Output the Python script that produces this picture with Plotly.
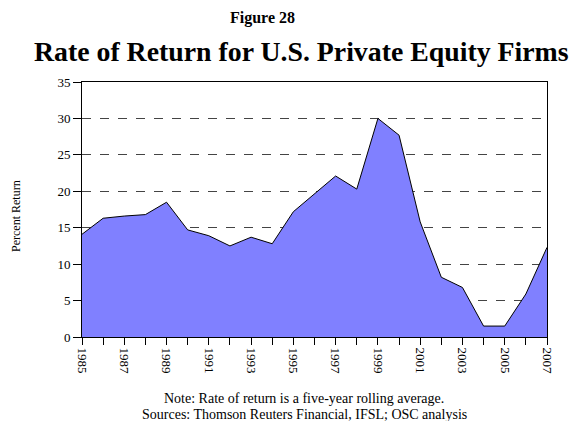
import plotly.graph_objects as go

years = list(range(1985, 2008))
returns = [14.1, 16.3, 16.6, 16.8, 18.5, 14.7, 13.9, 12.5, 13.7, 12.8, 17.2,
           19.6, 22.1, 20.3, 30.0, 27.7, 15.8, 8.2, 6.8, 1.5, 1.5, 5.9, 12.3]
y_ticks = [0, 5, 10, 15, 20, 25, 30, 35]
x_labels = [str(y) if (y - 1985) % 2 == 0 else "" for y in years]

font_family = "Liberation Serif, Times New Roman, serif"

L, R, T, B = 82, 34, 82, 84
W, H = 581, 421
pw = W - L - R
ph = H - T - B


def px(xp):
    return (xp - L) / pw


def py(yp):
    return (H - B - yp) / ph


fig = go.Figure()
fig.add_trace(go.Scatter(
    x=years, y=returns, mode="lines", fill="tozeroy",
    fillcolor="#8080FF", line=dict(color="black", width=1),
    hoverinfo="x+y", showlegend=False,
))


def ann(text, x, y, size, angle=0):
    return dict(text=text, x=px(x), y=py(y), xref="paper", yref="paper",
                xanchor="center", yanchor="middle", showarrow=False,
                textangle=angle, font=dict(size=size))


fig.update_layout(
    width=W, height=H,
    margin=dict(l=L, r=R, t=T, b=B, autoexpand=False),
    paper_bgcolor="white", plot_bgcolor="white",
    font=dict(family=font_family, color="black", size=13),
    annotations=[
        ann("<b>Figure 28</b>", 262, 18, 16),
        ann("<b>Rate of Return for U.S. Private Equity Firms</b>", 301, 52, 27.8),
        ann("Note: Rate of return is a five-year rolling average.", 304, 398, 14),
        ann("Sources: Thomson Reuters Financial, IFSL; OSC analysis", 304, 414, 14),
        ann("Percent Return", 16, 216, 12, -90),
    ],
)

fig.update_xaxes(
    range=[1985, 2007], tickmode="array", tickvals=years, ticktext=x_labels,
    tickangle=90, ticks="outside", ticklen=7, tickcolor="black",
    showline=True, linecolor="black", linewidth=1, mirror=True,
    showgrid=False, zeroline=False, tickfont=dict(size=13),
)
fig.update_yaxes(
    range=[0, 35], tickmode="array", tickvals=y_ticks,
    ticks="outside", ticklen=8, tickcolor="black",
    showline=True, linecolor="black", linewidth=1, mirror=True,
    showgrid=True, gridcolor="#444444", griddash="dash", gridwidth=1,
    zeroline=False, tickfont=dict(size=13),
)

fig.write_html("out.html", config={"displayModeBar": False},
               post_script="document.body.style.margin='0';")
